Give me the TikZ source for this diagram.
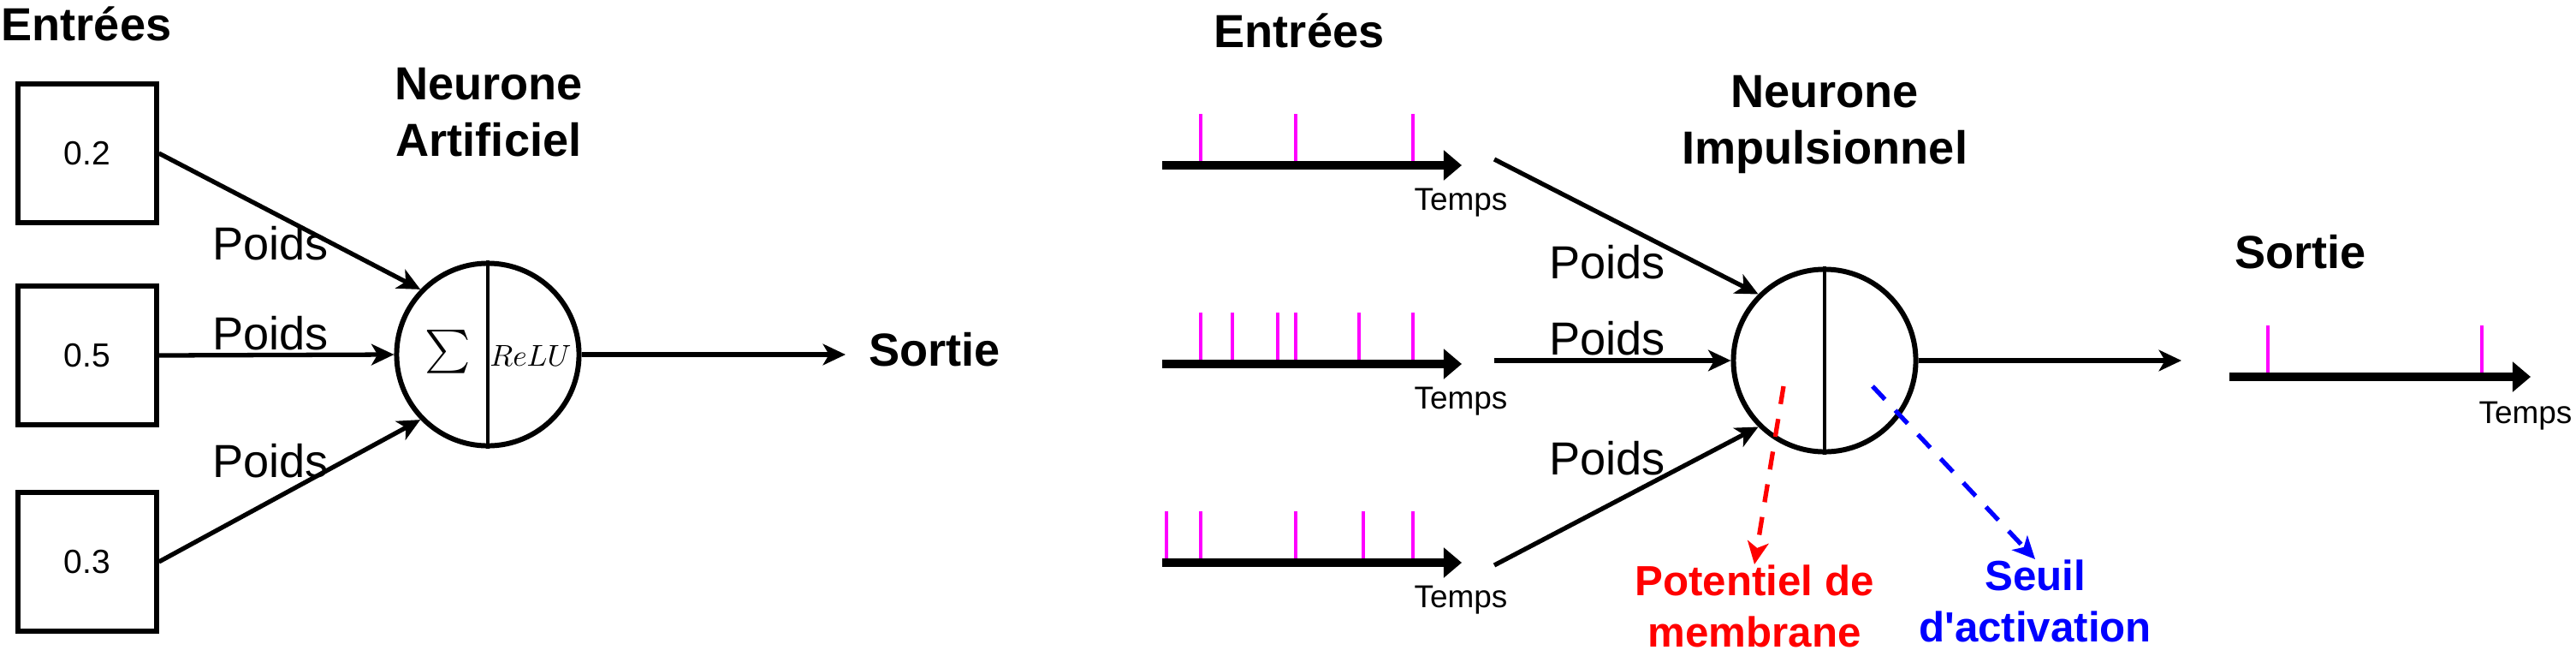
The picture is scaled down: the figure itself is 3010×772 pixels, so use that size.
\documentclass[tikz,border=0pt]{standalone}
\usepackage{exscale}
\usepackage{fontspec}
\setmainfont{Liberation Sans}
\usetikzlibrary{arrows.meta}
\definecolor{pic}{RGB}{255,0,255}

\begin{document}
\begin{tikzpicture}[x=0.01cm, y=-0.01cm,
    fleche/.style={line width=1.5pt, -{Stealth[length=7.5pt, width=7pt, inset=2pt]}},
    axe/.style={line width=2.6pt, -{Triangle[length=6pt, width=9.7pt]}},
    spike/.style={pic, line width=1.1pt},
    pointille/.style={line width=1.5pt, dash pattern=on 6pt off 5pt, -{Stealth[length=7.5pt, width=7pt, inset=2pt]}},
    titre/.style={font=\bfseries\fontsize{15.4}{18.6}\selectfont, align=center, inner sep=0pt},
    poids/.style={font=\fontsize{15.4}{18.6}\selectfont, anchor=base, inner sep=0pt},
    temps/.style={font=\fontsize{10.5}{12}\selectfont, anchor=base, inner sep=0pt},
    note/.style={font=\bfseries\fontsize{14}{17}\selectfont, align=center, anchor=north, inner sep=0pt},
    neurone/.style={circle, draw, line width=1.7pt, minimum size=2.13cm, inner sep=0pt}]

  \useasboundingbox (0,0) rectangle (3010,772);

  % neurone artificiel
  \begin{scope}[every node/.style={draw, line width=1.5pt, minimum size=1.62cm, inner sep=0pt, font=\fontsize{11.1}{13}\selectfont}]
    \node (e1) at (102,179) {0.2};
    \node (e2) at (102,415) {0.5};
    \node (e3) at (102,656) {0.3};
  \end{scope}

  \node[titre, anchor=base] (entA) at (101,47) {Entrées};
  \node[titre, anchor=north] (titreA) at (571,79) {Neurone\\Artificiel};

  \node[neurone] (nA) at (570,414) {};
  \draw[line width=1.3pt] (nA.north) -- (nA.south);
  \node (somme) at (523,411) {\fontsize{14.8}{16}\selectfont$\sum$};
  \node (relu) at (620,415) {\fontsize{10}{12}\selectfont$ReLU$};

  \path (e1.east) edge[fleche] (nA.136);
  \path (e2.east) edge[fleche] (nA.west);
  \path (e3.east) edge[fleche] (nA.224);

  \node[poids] (p1) at (316,303) {Poids};
  \node[poids] (p2) at (316,408) {Poids};
  \node[poids] (p3) at (316,557) {Poids};

  \coordinate (finA) at (988,414);
  \path (nA.east) edge[fleche] (finA);
  \node[titre, anchor=base] (sortA) at (1092,427) {Sortie};

  % neurone impulsionnel
  \node[titre, anchor=base] (entS) at (1518,55) {Entrées};
  \node[titre, anchor=north] (titreS) at (2132,88) {Neurone\\Impulsionnel};

  \foreach \x in {45,156,293} \draw[spike] (1358+\x,193) -- ++(0,-60);
  \foreach \x in {45,82,135,156,230,293} \draw[spike] (1358+\x,425) -- ++(0,-60);
  \foreach \x in {5,45,156,235,293} \draw[spike] (1358+\x,657) -- ++(0,-60);
  \foreach \x in {45,295} \draw[spike] (2605+\x,440) -- ++(0,-60);

  \foreach \n/\y in {1/193,2/425,3/657}{
    \coordinate (a\n) at (1358,\y);
    \coordinate (b\n) at (1708,\y);
    \node[temps] (temps\n) at (1707,\y+52) {Temps};
  }
  \coordinate (a4) at (2605,440);
  \coordinate (b4) at (2957,440);
  \node[temps] (temps4) at (2951,494) {Temps};
  \path (a1) edge[axe] (b1);
  \path (a2) edge[axe] (b2);
  \path (a3) edge[axe] (b3);
  \path (a4) edge[axe] (b4);

  \node[neurone] (nS) at (2132,421) {};
  \draw[line width=1.3pt] (nS.north) -- (nS.south);

  \coordinate (d1) at (1746,186);
  \coordinate (d2) at (1746,421);
  \coordinate (d3) at (1746,660);
  \path (d1) edge[fleche] (nS.135);
  \path (d2) edge[fleche] (nS.west);
  \path (d3) edge[fleche] (nS.225);

  \node[poids] (q1) at (1878,325) {Poids};
  \node[poids] (q2) at (1878,414) {Poids};
  \node[poids] (q3) at (1878,554) {Poids};

  \coordinate (finS) at (2549,421);
  \path (nS.east) edge[fleche] (finS);
  \node[titre, anchor=base] (sortS) at (2688,313) {Sortie};

  % potentiel et seuil
  \coordinate (m0) at (2084,451);
  \coordinate (s0) at (2188,451);
  \node[note, red] (pot) at (2050,659) {Potentiel de\\membrane};
  \node[note, blue] (seuil) at (2378,653) {Seuil\\d\textquotesingle activation};
  \path (m0) edge[pointille, red] (pot.north);
  \path (s0) edge[pointille, blue] (seuil.north);

\end{tikzpicture}
\end{document}
